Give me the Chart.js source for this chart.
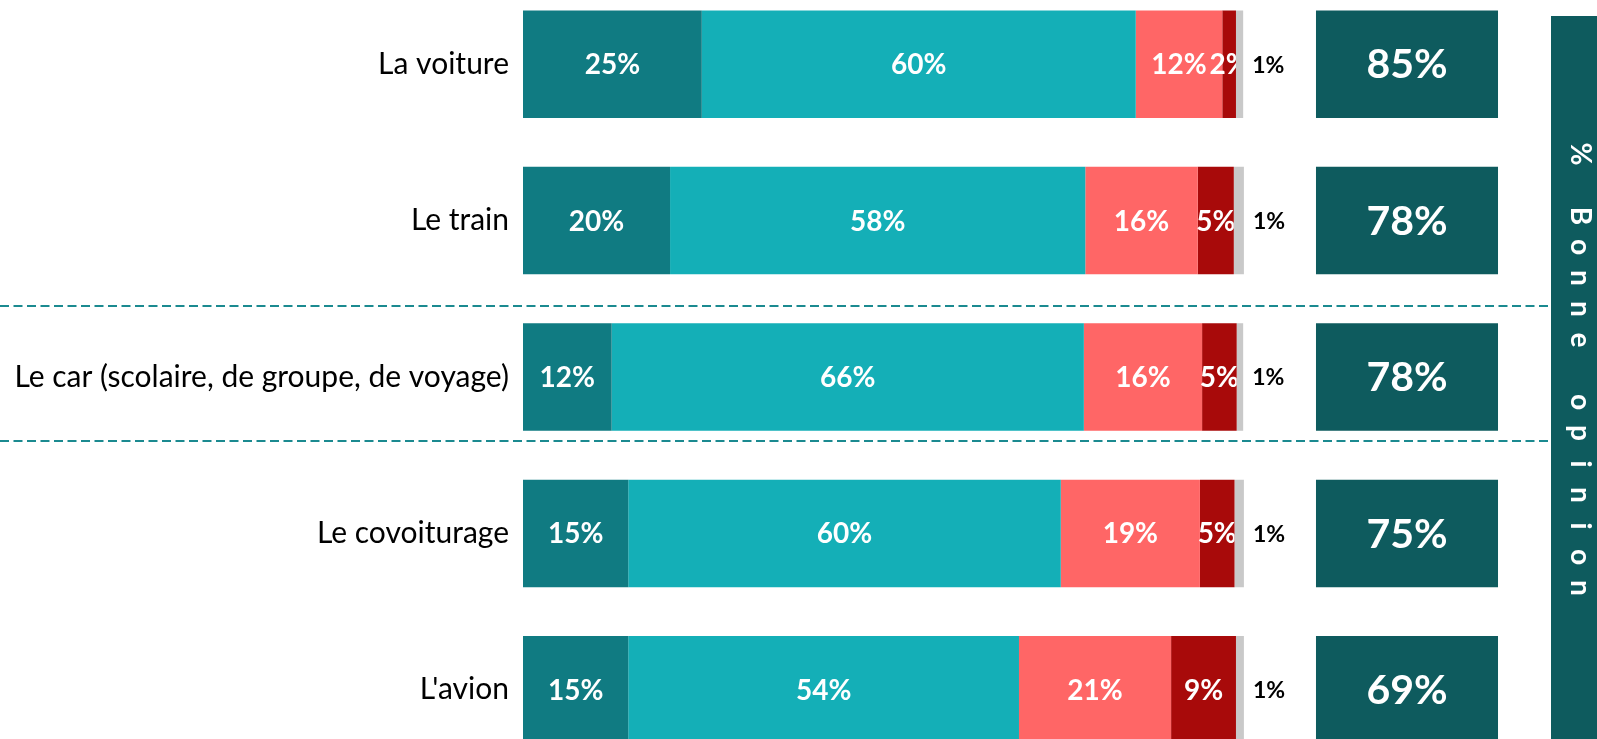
<!DOCTYPE html>
<html>
<head>
<meta charset="utf-8">
<script src="https://cdn.jsdelivr.net/npm/chart.js"></script>
<style>
  body { margin: 0; overflow: hidden; background: #fff; }
  #wrap { position: absolute; left: 0; top: -14px; width: 1597px; height: 782px; }
</style>
</head>
<body>
<div id="wrap"><canvas id="chart_Opinion"></canvas></div>
<script>
// values (percent)
var categories = ["La voiture", "Le train", "Le car (scolaire, de groupe, de voyage)", "Le covoiturage", "L'avion"];
var tresBonne = [24.8, 20.4, 12.3, 14.6, 14.6];
var plutotBonne = [60.2, 57.6, 65.5, 60.0, 54.2];
var plutotMauvaise = [12.0, 15.6, 16.4, 19.3, 21.1];
var tresMauvaise = [1.9, 5.0, 4.8, 4.8, 9.0];
var nsp = [1.0, 1.4, 0.9, 1.3, 1.1];
var bonneOpinion = [85, 78, 78, 75, 69];

var FONT = "Lato";
var BOX_FROM = 110.0, BOX_TO = 135.25, X_MAX = 142.6;

var labelPlugin = {
  id: "segLabels",
  beforeDatasetsDraw: function (chart) {
    // dashed separators between the groups
    var ctx = chart.ctx, y = chart.scales.y;
    ctx.save();
    ctx.strokeStyle = "#1b8a90";
    ctx.lineWidth = 2;
    ctx.setLineDash([9, 4.5]);
    [1.547, 2.41].forEach(function (v) {
      var py = Math.round(y.getPixelForValue(v));
      ctx.beginPath();
      ctx.moveTo(0, py);
      ctx.lineTo(chart.chartArea.right, py);
      ctx.stroke();
    });
    ctx.restore();
  },
  afterDatasetsDraw: function (chart) {
    var ctx = chart.ctx;
    var greyBars = chart.getDatasetMeta(4).data;
    ctx.save();
    ctx.textBaseline = "middle";
    ctx.textAlign = "center";
    for (var d = 0; d < 4; d++) {
      var values = chart.data.datasets[d].data;
      chart.getDatasetMeta(d).data.forEach(function (bar, i) {
        var p = bar.getCenterPoint();
        ctx.save();
        ctx.beginPath();
        ctx.rect(0, bar.y - bar.height / 2, greyBars[i].base, bar.height);
        ctx.clip();
        ctx.fillStyle = "#ffffff";
        ctx.font = "bold 28px " + FONT;
        ctx.fillText(Math.round(values[i]) + "%", p.x, p.y + 1);
        ctx.restore();
      });
    }
    // small grey share, written outside the bar
    ctx.textAlign = "left";
    ctx.fillStyle = "#000000";
    ctx.font = "bold 23px " + FONT;
    greyBars.forEach(function (bar, i) {
      ctx.fillText(Math.round(nsp[i]) + "%", bar.x + 9, bar.y + 1);
    });
    // bonne opinion boxes
    ctx.textAlign = "center";
    ctx.fillStyle = "#ffffff";
    ctx.font = "bold 41px " + FONT;
    chart.getDatasetMeta(5).data.forEach(function (bar, i) {
      var p = bar.getCenterPoint();
      ctx.fillText(bonneOpinion[i] + "%", p.x, p.y + 1);
    });
    ctx.restore();
  },
  afterDraw: function (chart) {
    var ctx = chart.ctx;
    var x0 = chart.chartArea.right;
    ctx.save();
    ctx.fillStyle = "#0e5b5e";
    ctx.fillRect(x0, 30, chart.width - x0, chart.height - 30);
    ctx.translate(1580, 0);
    ctx.fillStyle = "#ffffff";
    ctx.font = "bold 28px " + FONT;
    ctx.textAlign = "center";
    ctx.textBaseline = "middle";
    var txt = "% Bonne opinion";
    for (var k = 0; k < txt.length; k++) {
      ctx.save();
      ctx.translate(0, 168 + k * 31);
      ctx.rotate(Math.PI / 2);
      ctx.fillText(txt[k], 0, 0);
      ctx.restore();
    }
    ctx.restore();
  }
};

function makeSet(label, data, color) {
  return { label: label, data: data, backgroundColor: color, stack: "a", borderWidth: 0 };
}

new Chart(document.getElementById("chart_Opinion"), {
  type: "bar",
  data: {
    labels: categories,
    datasets: [
      makeSet("Très bonne opinion", tresBonne, "#107b82"),
      makeSet("Plutôt bonne opinion", plutotBonne, "#14afb7"),
      makeSet("Plutôt mauvaise opinion", plutotMauvaise, "#ff6666"),
      makeSet("Très mauvaise opinion", tresMauvaise, "#a80a0a"),
      makeSet("Ne se prononce pas", nsp, "#c9c9c9"),
      {
        label: "% Bonne opinion",
        data: bonneOpinion.map(function () { return [BOX_FROM, BOX_TO]; }),
        backgroundColor: "#0e5b5e",
        stack: "b",
        grouped: false,
        borderWidth: 0
      }
    ]
  },
  options: {
    indexAxis: "y",
    responsive: true,
    maintainAspectRatio: false,
    animation: false,
    barPercentage: 0.6876,
    categoryPercentage: 1,
    layout: { padding: { left: 0, right: 46, top: 0, bottom: 0 } },
    plugins: {
      legend: { display: false },
      tooltip: { enabled: false }
    },
    scales: {
      x: { stacked: true, display: false, min: 0, max: X_MAX },
      y: {
        stacked: true,
        grid: { display: false, drawTicks: false },
        border: { display: false },
        ticks: {
          padding: 14,
          color: "#000000",
          font: { family: FONT, size: 30 }
        },
        afterFit: function (scale) {
          scale.width = 523;
          scale.paddingTop = 0;
          scale.paddingBottom = 0;
        }
      }
    }
  },
  plugins: [labelPlugin]
});
</script>
</body>
</html>
